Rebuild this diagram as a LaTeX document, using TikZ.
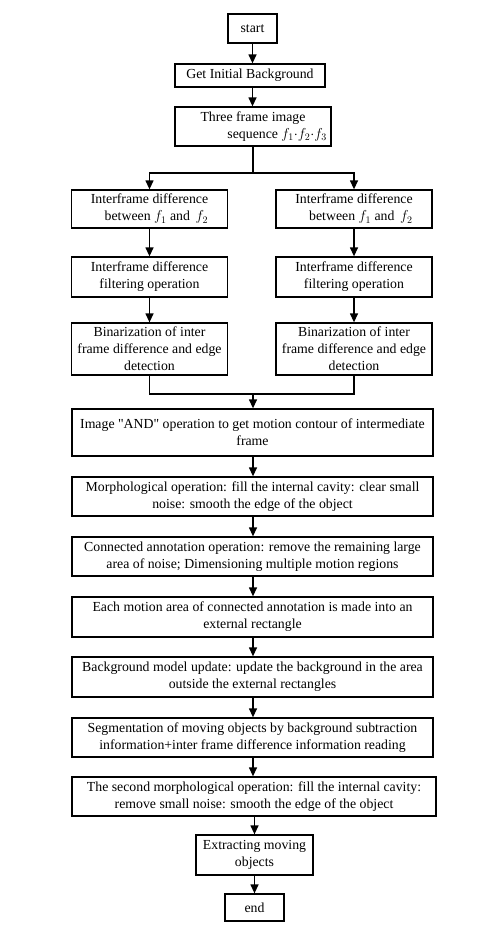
\documentclass[tikz,border=0pt]{standalone}
\usepackage{fontspec}
\setmainfont{Liberation Serif}
\usepackage{tikz}
\usetikzlibrary{arrows.meta,positioning}
\tikzset{
    every picture/.style={line join=miter},
    flowbox/.style={draw=black,fill=white,line width=1.3pt,
      inner xsep=3pt,inner ysep=2pt,align=center,
      font=\fontsize{13.8}{17}\selectfont},
    widebox/.style={flowbox,minimum width=361pt},
    sidebox/.style={flowbox,minimum width=156pt},
    flowarrow/.style={-{Triangle[length=9pt,width=8pt]},draw=black,
      line width=1.3pt},
    flowline/.style={draw=black,line width=1.3pt}
}
\begin{document}
\begin{tikzpicture}[x=1pt,y=-1pt]
  \useasboundingbox (0,0) rectangle (500,948);
  % top of the chart
  \node[flowbox,minimum width=49pt,minimum height=29pt] (start) at (252.5,28.5) {start};
  \node[flowbox,minimum width=150pt,minimum height=23pt] (initbg) at (250,75.5) {Get Initial Background};
  \node[flowbox,minimum width=156pt,minimum height=39pt] (seq) at (253,126.5)
    {Three frame image\\\hspace*{3.5em}sequence $f_1{\cdot}f_2{\cdot}f_3$};
  \coordinate (split) at (253,173);

  % two difference branches
  \foreach \side/\cx in {L/149.5,R/354} {
    \node[sidebox,minimum height=38pt] (\side diff) at (\cx,209)
      {Interframe difference\\\hspace*{1em}between $f_1$ and\, $f_2$};
    \node[sidebox,minimum height=40pt] (\side filt) at (\cx,277)
      {Interframe difference\\filtering operation};
    \node[sidebox,minimum height=52pt] (\side bin) at (\cx,349)
      {Binarization of inter\\frame difference and edge\\detection};
    \draw[flowarrow] (\side diff) -- (\side filt);
    \draw[flowarrow] (\side filt) -- (\side bin);
  }
  \coordinate (merge) at (253,394);

  % main column
  \node[widebox,minimum height=47pt] (andop) at (252.5,432.5)
    {Image \textquotedbl AND\textquotedbl{} operation to get motion contour of intermediate\\frame};
  \node[widebox,minimum height=39pt] (morph) at (252.5,496.5)
    {Morphological operation: fill the internal cavity: clear small\\noise: smooth the edge of the object};
  \node[widebox,minimum height=39pt] (conn) at (252.5,556.5)
    {Connected annotation operation: remove the remaining large\\area of noise; Dimensioning multiple motion regions};
  \node[widebox,minimum height=40pt] (rect) at (252.5,617)
    {Each motion area of connected annotation is made into an\\external rectangle};
  \node[widebox,minimum height=40pt] (update) at (252.5,677)
    {Background model update: update the background in the area\\outside the external rectangles};
  \node[widebox,minimum height=39pt] (segm) at (252.5,737.5)
    {Segmentation of moving objects by background subtraction\\information+inter frame difference information reading};
  \node[flowbox,minimum width=364pt,minimum height=39pt] (morph2) at (254,796.5)
    {The second morphological operation: fill the internal cavity:\\remove small noise: smooth the edge of the object};
  \node[flowbox,minimum width=117pt,minimum height=40pt] (extract) at (254.5,855)
    {Extracting moving\\objects};
  \node[flowbox,minimum width=59pt,minimum height=27pt] (end) at (254.5,907.5) {end};

  \draw[flowarrow] (start.south) -- (start.south |- initbg.north);
  \draw[flowarrow] (start.south |- initbg.south) -- (start.south |- seq.north);
  \draw[flowline] (seq.south) -- (split);
  \draw[flowarrow] (split) -| (Ldiff.north);
  \draw[flowarrow] (split) -| (Rdiff.north);
  \draw[flowline] (Lbin.south) |- (merge) -| (Rbin.south);
  \draw[flowarrow] (merge) -- (merge |- andop.north);
  \draw[flowarrow] (merge |- andop.south) -- (merge |- morph.north);
  \draw[flowarrow] (merge |- morph.south) -- (merge |- conn.north);
  \draw[flowarrow] (merge |- conn.south) -- (merge |- rect.north);
  \draw[flowarrow] (merge |- rect.south) -- (merge |- update.north);
  \draw[flowarrow] (merge |- update.south) -- (merge |- segm.north);
  \draw[flowarrow] (merge |- segm.south) -- (merge |- morph2.north);
  \draw[flowarrow] (morph2.south -| extract) -- (extract);
  \draw[flowarrow] (extract) -- (end);
\end{tikzpicture}
\end{document}
